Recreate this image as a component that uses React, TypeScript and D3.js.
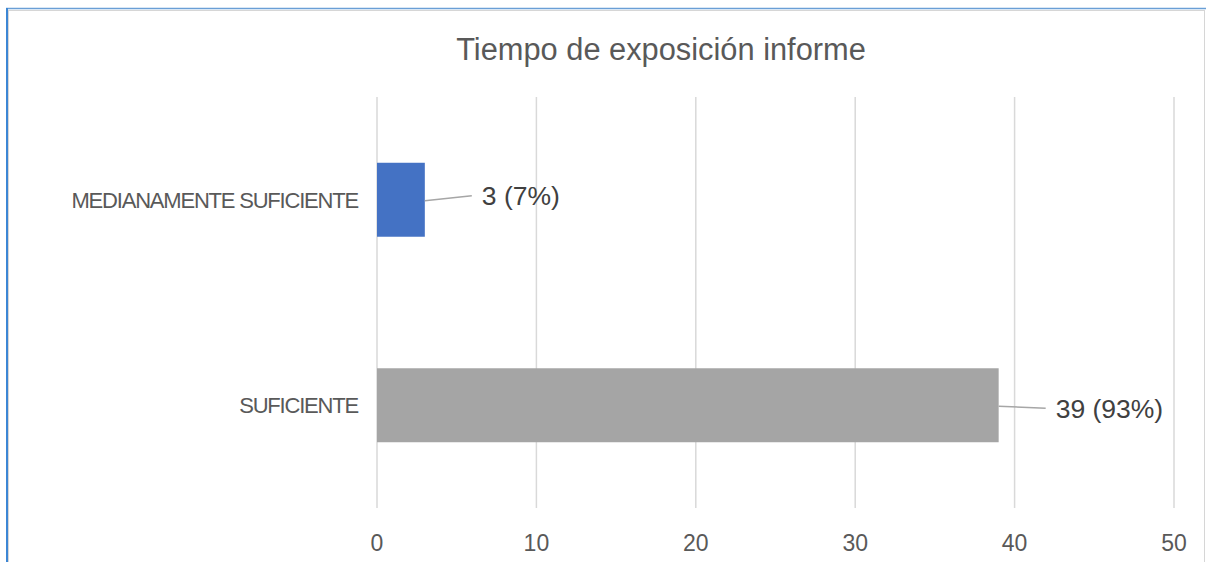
import React, { useEffect, useRef } from "react";
import * as d3 from "d3";

// chart values
const categories = ["MEDIANAMENTE SUFICIENTE", "SUFICIENTE"];
const values = [3, 39];
const percents = ["7%", "93%"];
const barColors = ["#4472C4", "#A5A5A5"];
const xTicks = [0, 10, 20, 30, 40, 50];
const title = "Tiempo de exposición informe";

const W = 1206;
const H = 562;

const App: React.FC = () => {
  const svgRef = useRef<SVGSVGElement>(null);

  useEffect(() => {
    if (!svgRef.current) return;
    const svg = d3.select(svgRef.current);
    svg.selectAll("*").remove();

    const font = "'Liberation Sans', Arial, Helvetica, sans-serif";
    const margin = { top: 97, right: 32, bottom: 54, left: 377 };

    // frame (selected chart border)
    svg.append("rect").attr("x", 0).attr("y", 0).attr("width", W).attr("height", H).attr("fill", "#fff");
    svg.append("line").attr("x1", 6).attr("x2", W).attr("y1", 8.5).attr("y2", 8.5)
      .attr("stroke", "#6a9fd6").attr("stroke-width", 1.5);
    svg.append("line").attr("x1", 7).attr("x2", 7).attr("y1", 8).attr("y2", H)
      .attr("stroke", "#3c86d4").attr("stroke-width", 2);
    svg.append("line").attr("x1", 8).attr("x2", W - 1).attr("y1", 10.5).attr("y2", 10.5)
      .attr("stroke", "#d6d6d6").attr("stroke-width", 1);
    svg.append("line").attr("x1", 8.5).attr("x2", 8.5).attr("y1", 10).attr("y2", H)
      .attr("stroke", "#d6d6d6").attr("stroke-width", 1);
    svg.append("line").attr("x1", W - 1.5).attr("x2", W - 1.5).attr("y1", 10).attr("y2", H)
      .attr("stroke", "#d6d6d6").attr("stroke-width", 1);

    const x = d3.scaleLinear().domain([0, 50]).range([margin.left, 1174]);
    const y = d3
      .scaleBand()
      .domain(categories)
      .range([margin.top, H - margin.bottom])
      .paddingInner(0.64)
      .paddingOuter(0.32);

    // title
    svg.append("text")
      .attr("x", 661).attr("y", 60)
      .attr("text-anchor", "middle")
      .attr("font-family", font).attr("font-size", 30.8)
      .attr("fill", "#595959")
      .text(title);

    // gridlines
    svg.append("g")
      .selectAll("line")
      .data(xTicks)
      .enter()
      .append("line")
      .attr("x1", (d) => x(d)).attr("x2", (d) => x(d))
      .attr("y1", margin.top).attr("y2", H - margin.bottom)
      .attr("stroke", "#d9d9d9").attr("stroke-width", 1.5);

    // tick labels
    svg.append("g")
      .selectAll("text")
      .data(xTicks)
      .enter()
      .append("text")
      .attr("x", (d) => x(d)).attr("y", 551)
      .attr("text-anchor", "middle")
      .attr("font-family", font).attr("font-size", 23)
      .attr("fill", "#595959")
      .text((d) => String(d));

    // bars
    svg.append("g")
      .selectAll("rect")
      .data(values)
      .enter()
      .append("rect")
      .attr("x", x(0))
      .attr("y", (_, i) => y(categories[i])!)
      .attr("width", (d) => x(d) - x(0))
      .attr("height", y.bandwidth())
      .attr("fill", (_, i) => barColors[i]);

    // category labels
    svg.append("g")
      .selectAll("text")
      .data(categories)
      .enter()
      .append("text")
      .attr("x", 358)
      .attr("y", (d) => y(d)! + y.bandwidth() / 2)
      .attr("dy", "0.36em")
      .attr("text-anchor", "end")
      .attr("font-family", font).attr("font-size", 22)
      .attr("letter-spacing", -1.2)
      .attr("fill", "#595959")
      .text((d) => d);

    // data labels with leader lines
    const lab = svg.append("g");
    values.forEach((v, i) => {
      const cy = y(categories[i])! + y.bandwidth() / 2;
      const shift = i === 0 ? -4 : 3;
      lab.append("path")
        .attr("d", `M${x(v)},${cy + 1}L${x(v) + 47},${cy + shift}`)
        .attr("stroke", "#a6a6a6").attr("stroke-width", 1.5).attr("fill", "none");
      lab.append("text")
        .attr("x", x(v) + 57)
        .attr("y", cy + shift)
        .attr("dy", "0.36em")
        .attr("font-family", font).attr("font-size", 26.5)
        .attr("fill", "#404040")
        .text(`${v} (${percents[i]})`);
    });
  }, []);

  return (
    <div style={{ position: "absolute", left: 0, top: 0, width: W, height: H }}>
      <svg ref={svgRef} width={W} height={H} style={{ display: "block" }} />
    </div>
  );
};

export default App;
